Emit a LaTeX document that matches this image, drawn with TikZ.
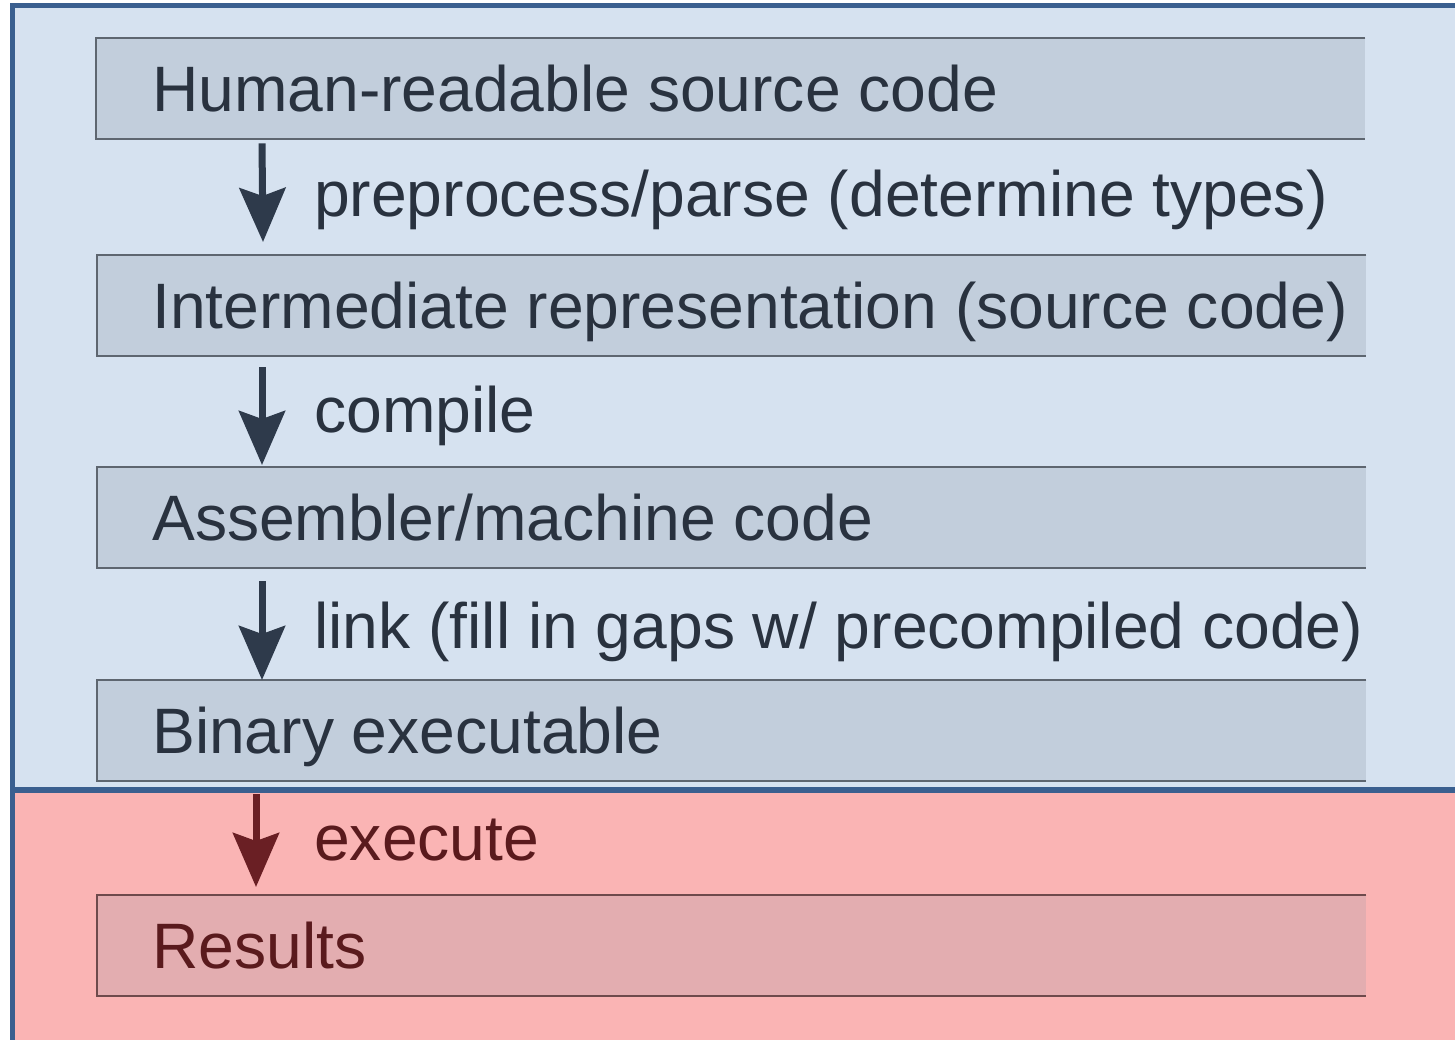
\documentclass[tikz,border=0pt]{standalone}
\usepackage{fontspec}
\setmainfont{Liberation Sans}
\usetikzlibrary{arrows.meta}

\definecolor{frameblue}{HTML}{3A5F8F}
\definecolor{bgblue}{HTML}{D6E2F0}
\definecolor{bgred}{HTML}{FAB4B4}
\definecolor{boxblue}{HTML}{C2CEDC}
\definecolor{boxred}{HTML}{E3ADB0}
\definecolor{edgegray}{HTML}{5E6670}
\definecolor{edgered}{HTML}{6E4A4C}
\definecolor{inkslate}{HTML}{29323F}
\definecolor{inkred}{HTML}{5A1A1D}
\definecolor{arrowslate}{HTML}{2E3A4B}
\definecolor{arrowred}{HTML}{6A1F24}

\tikzset{
  stage/.style={rectangle, anchor=north west, minimum width=1269pt, minimum height=101pt, inner sep=0pt},
  bluestage/.style={stage, fill=boxblue},
  redstage/.style={stage, fill=boxred},
  stagetext/.style={anchor=west, inner sep=0pt, text height=45pt, text depth=0pt,
    font=\fontsize{64.2}{70}\selectfont},
  rim/.style={line width=2pt},
  steplabel/.style={anchor=base west, inner sep=0pt, font=\fontsize{64.2}{70}\selectfont},
  flow/.style={line width=7pt, -{Stealth[length=54pt, width=46pt, inset=8pt]}},
}

\begin{document}
\begin{tikzpicture}[x=1pt, y=-1pt]
  \useasboundingbox (0,0) rectangle (1455,1040);
  \fill[white] (0,0) rectangle (1455,1040);

  % background bands
  \fill[bgblue] (15,8) rectangle (1455,790);
  \fill[bgred] (15,790) rectangle (1455,1040);

  % frame and separator
  \draw[frameblue, line width=5.5pt] (12.5,1040) -- (12.5,5.5) -- (1455,5.5);
  \draw[frameblue, line width=5.5pt] (15,790) -- (1455,790);

  % stages
  \node[bluestage] (b1) at (96,38)  {};
  \node[bluestage] (b2) at (97,255) {};
  \node[bluestage] (b3) at (97,467) {};
  \node[bluestage] (b4) at (97,680) {};
  \node[redstage]  (b5) at (97,895) {};

  \foreach \b in {b1,b2,b3,b4}
    \draw[rim, edgegray] (\b.north east) -- (\b.north west) -- (\b.south west) -- (\b.south east);
  \draw[rim, edgered] (b5.north east) -- (b5.north west) -- (b5.south west) -- (b5.south east);

  % stage captions
  \node[stagetext, text=inkslate] (t1) at ([xshift=56pt]b1.west) {Human-readable source code};
  \node[stagetext, text=inkslate] (t2) at ([xshift=55pt]b2.west) {Intermediate representation (source code)};
  \node[stagetext, text=inkslate] (t3) at ([xshift=55pt]b3.west) {Assembler/machine code};
  \node[stagetext, text=inkslate] (t4) at ([xshift=55pt]b4.west) {Binary executable};
  \node[stagetext, text=inkred]   (t5) at ([xshift=55pt]b5.west) {Results};

  % transitions
  \draw[flow, arrowslate] ([xshift=166pt, yshift=-4pt]b1.south west) -- ([xshift=166pt, yshift=13pt]b2.north west);
  \draw[flow, arrowslate] ([xshift=165pt, yshift=-11pt]b2.south west) -- ([xshift=165pt, yshift=2pt]b3.north west);
  \draw[flow, arrowslate] ([xshift=165pt, yshift=-13pt]b3.south west) -- ([xshift=165pt, yshift=0pt]b4.north west);
  \draw[flow, arrowred]   ([xshift=159pt, yshift=-13pt]b4.south west) -- ([xshift=159pt, yshift=8pt]b5.north west);

  % transition labels
  \node[steplabel, text=inkslate] (l1) at (314,217) {preprocess/parse (determine types)};
  \node[steplabel, text=inkslate] (l2) at (314,432) {compile};
  \node[steplabel, text=inkslate] (l3) at (314,648) {link (fill in gaps w/ precompiled code)};
  \node[steplabel, text=inkred]   (l4) at (314,860) {execute};
\end{tikzpicture}
\end{document}
